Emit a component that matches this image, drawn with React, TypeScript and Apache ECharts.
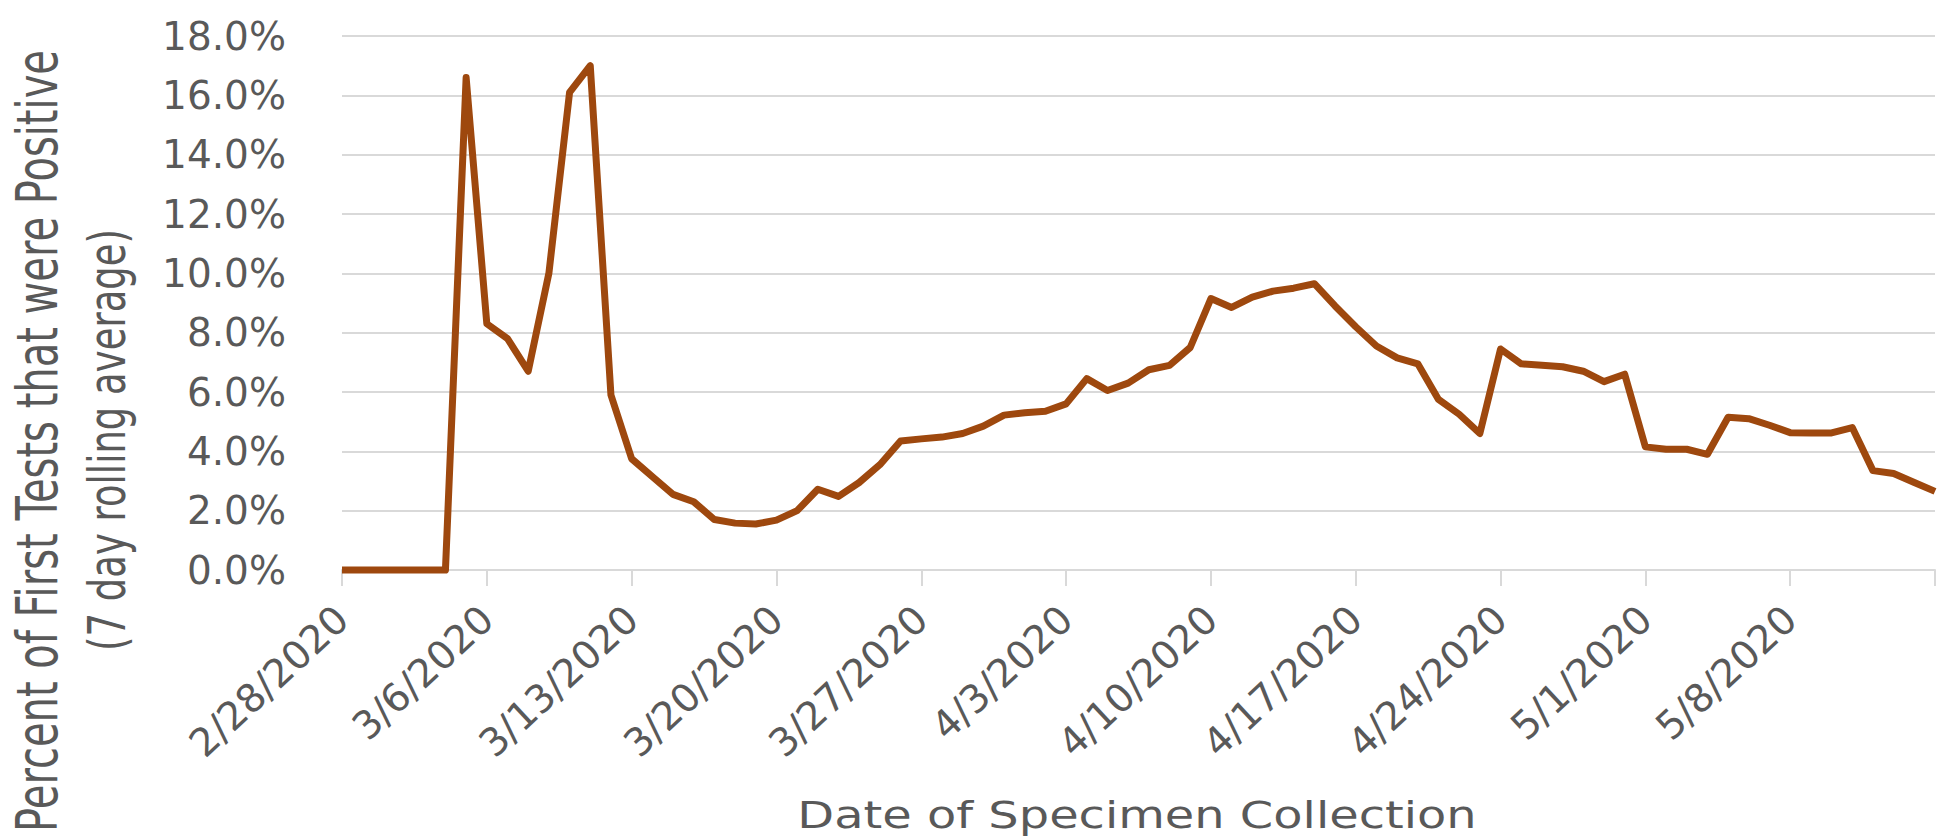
import React, { useEffect, useRef } from "react";
import * as echarts from "echarts";

const dates: string[] = [
  "2/28/2020", "2/29/2020",
  "3/1/2020", "3/2/2020", "3/3/2020", "3/4/2020", "3/5/2020", "3/6/2020", "3/7/2020", "3/8/2020",
  "3/9/2020", "3/10/2020", "3/11/2020", "3/12/2020", "3/13/2020", "3/14/2020", "3/15/2020", "3/16/2020",
  "3/17/2020", "3/18/2020", "3/19/2020", "3/20/2020", "3/21/2020", "3/22/2020", "3/23/2020", "3/24/2020",
  "3/25/2020", "3/26/2020", "3/27/2020", "3/28/2020", "3/29/2020", "3/30/2020", "3/31/2020",
  "4/1/2020", "4/2/2020", "4/3/2020", "4/4/2020", "4/5/2020", "4/6/2020", "4/7/2020", "4/8/2020",
  "4/9/2020", "4/10/2020", "4/11/2020", "4/12/2020", "4/13/2020", "4/14/2020", "4/15/2020", "4/16/2020",
  "4/17/2020", "4/18/2020", "4/19/2020", "4/20/2020", "4/21/2020", "4/22/2020", "4/23/2020", "4/24/2020",
  "4/25/2020", "4/26/2020", "4/27/2020", "4/28/2020", "4/29/2020", "4/30/2020",
  "5/1/2020", "5/2/2020", "5/3/2020", "5/4/2020", "5/5/2020", "5/6/2020", "5/7/2020", "5/8/2020",
  "5/9/2020", "5/10/2020", "5/11/2020", "5/12/2020", "5/13/2020", "5/14/2020", "5/15/2020",
];

// Percent of first tests that were positive (7 day rolling average), in %
const positivePct: number[] = [
  0, 0, 0, 0, 0, 0, 16.6, 8.3, 7.8, 6.7,
  10.0, 16.1, 17.0, 5.9, 3.75, 3.15, 2.55, 2.3, 1.7, 1.58,
  1.55, 1.68, 2.0, 2.72, 2.48, 2.95, 3.55, 4.35, 4.42, 4.48,
  4.6, 4.85, 5.22, 5.3, 5.35, 5.6, 6.45, 6.05, 6.3, 6.75,
  6.9, 7.5, 9.15, 8.85, 9.2, 9.4, 9.5, 9.65, 8.9, 8.2,
  7.55, 7.15, 6.95, 5.75, 5.25, 4.6, 7.45, 6.95, 6.9, 6.85,
  6.7, 6.35, 6.6, 4.15, 4.07, 4.07, 3.9, 5.15, 5.1, 4.88,
  4.63, 4.62, 4.62, 4.8, 3.35, 3.25, 2.95, 2.65,
];

const yMin = 0;
const yMax = 18;
const yStep = 2;
const labelEvery = 7;

const yTitleLine1 = "Percent of First Tests that were Positive";
const yTitleLine2 = "(7 day rolling average)";
const xTitle = "Date of Specimen Collection";

const FONT = "DejaVu Sans";
const GRAY = "#595959";
const GRID = "#d9d9d9";

export default function App() {
  const ref = useRef<HTMLDivElement>(null);

  useEffect(() => {
    if (!ref.current) return;
    const chart = echarts.init(ref.current, undefined, { renderer: "svg" });
    const lastIdx = dates.length - 1;
    chart.setOption({
      animation: false,
      backgroundColor: "#ffffff",
      textStyle: { fontFamily: FONT },
      grid: { left: 342, right: 6, top: 36, bottom: 267 },
      xAxis: {
        type: "category",
        data: dates,
        boundaryGap: false,
        axisLine: { show: true, lineStyle: { color: GRID, width: 2 } },
        axisTick: {
          show: true,
          interval: (i: number) => i % labelEvery === 0,
          length: 16,
          lineStyle: { color: GRID, width: 2 },
        },
        axisLabel: {
          interval: (i: number) => i % labelEvery === 0 && i < lastIdx,
          rotate: 43,
          margin: 43,
          fontSize: 39,
          fontFamily: FONT,
          color: GRAY,
        },
        splitLine: { show: false },
      },
      yAxis: {
        type: "value",
        min: yMin,
        max: yMax,
        interval: yStep,
        axisLine: { show: false },
        axisTick: { show: false },
        axisLabel: {
          formatter: (v: number) => v.toFixed(1) + "%",
          fontSize: 39,
          fontFamily: FONT,
          color: GRAY,
          margin: 56,
          padding: [0, 0, 11, 0],
        },
        splitLine: { show: true, lineStyle: { color: GRID, width: 2 } },
      },
      series: [
        {
          type: "line",
          data: positivePct,
          showSymbol: false,
          symbol: "none",
          clip: false,
          z: 3,
          lineStyle: { color: "#9E480E", width: 7, join: "round" },
        },
      ],
      graphic: [
        {
          type: "text",
          x: 38,
          y: 441,
          rotation: Math.PI / 2,
          scaleY: 1.41,
          style: {
            text: yTitleLine1,
            fontSize: 40,
            fontFamily: FONT,
            fill: GRAY,
            align: "center",
            verticalAlign: "middle",
          },
        },
        {
          type: "text",
          x: 107,
          y: 440,
          rotation: Math.PI / 2,
          scaleY: 1.41,
          style: {
            text: yTitleLine2,
            fontSize: 37,
            fontFamily: FONT,
            fill: GRAY,
            align: "center",
            verticalAlign: "middle",
          },
        },
        {
          type: "text",
          x: 1137,
          y: 815,
          scaleX: 1.26,
          style: {
            text: xTitle,
            fontSize: 38,
            fontFamily: FONT,
            fill: GRAY,
            align: "center",
            verticalAlign: "middle",
          },
        },
      ],
    });
    return () => chart.dispose();
  }, []);

  return (
    <div
      ref={ref}
      style={{ position: "fixed", left: 0, top: 0, width: 1941, height: 837, background: "#fff" }}
    />
  );
}
